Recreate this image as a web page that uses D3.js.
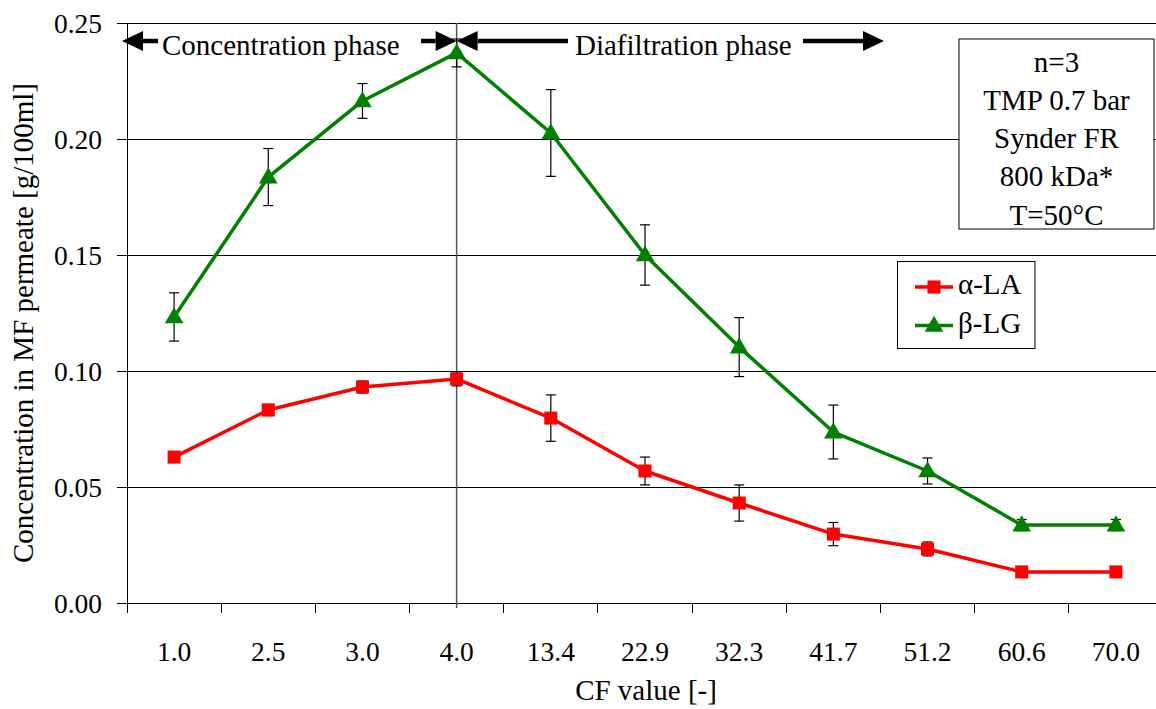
<!DOCTYPE html>
<html>
<head>
<meta charset="utf-8">
<script src="https://cdn.jsdelivr.net/npm/d3@7/dist/d3.min.js"></script>
<style>
  html, body { margin: 0; padding: 0; background: #fff; }
  svg { display: block; font-family: "Liberation Serif", "Times New Roman", serif; }
</style>
</head>
<body>
<svg id="chart" width="1156" height="709"></svg>
<script>
// ---- data ----
const categories = ["1.0", "2.5", "3.0", "4.0", "13.4", "22.9", "32.3", "41.7", "51.2", "60.6", "70.0"];
const alphaLA    = [0.0629, 0.0832, 0.0931, 0.0966, 0.0797, 0.0569, 0.0431, 0.0297, 0.0233, 0.0134, 0.0134];
const alphaLAErr = [0.0020, 0.0024, 0.0026, 0.0030, 0.0100, 0.0060, 0.0078, 0.0050, 0.0030, 0.0022, 0.0022];
const betaLG     = [0.1233, 0.1836, 0.2164, 0.2371, 0.2026, 0.1500, 0.1103, 0.0737, 0.0569, 0.0336, 0.0336];
const betaLGErr  = [0.0104, 0.0123, 0.0075, 0.0060, 0.0187, 0.0130, 0.0127, 0.0116, 0.0056, 0.0024, 0.0024];
const yTicks = [0, 0.05, 0.10, 0.15, 0.20, 0.25];
const infoLines = ["n=3", "TMP 0.7 bar", "Synder FR", "800 kDa*", "T=50°C"];
const seriesNames = ["α-LA", "β-LG"];
const phaseLabels = ["Concentration phase", "Diafiltration phase"];
const dividerCategory = "4.0";

// ---- layout ----
const svg = d3.select("#chart");
const L = 127, R = 1163, T = 23, B = 603;
const x = d3.scaleBand().domain(categories).range([L, R]).padding(0);
const bw = x.bandwidth();
const cx = c => x(c) + bw / 2;
const y = d3.scaleLinear().domain([0, 0.25]).range([B, T]);

const series = [
  { name: seriesNames[0], values: alphaLA, err: alphaLAErr, color: "#ff0000", marker: "square" },
  { name: seriesNames[1], values: betaLG, err: betaLGErr, color: "#008000", marker: "triangle" }
];

// gridlines
svg.append("g").selectAll("line").data(yTicks.filter(d => d > 0)).join("line")
  .attr("x1", L).attr("x2", R).attr("y1", d => y(d)).attr("y2", d => y(d))
  .attr("stroke", "#000").attr("stroke-width", 1).attr("shape-rendering", "crispEdges");

// y axis
const yAxis = svg.append("g").attr("transform", `translate(${L},0)`)
  .call(d3.axisLeft(y).tickValues(yTicks).tickFormat(d3.format(".2f")).tickSize(10).tickPadding(15));
yAxis.select(".domain").attr("stroke", "#000").attr("shape-rendering", "crispEdges");
yAxis.selectAll(".tick line").attr("stroke", "#000").attr("shape-rendering", "crispEdges");
yAxis.selectAll("text").attr("font-size", 27.5).attr("font-family", "Liberation Serif, Times New Roman, serif")
  .attr("fill", "#000").attr("dy", "0.34em");

// x axis line
svg.append("line").attr("x1", L).attr("x2", R).attr("y1", B).attr("y2", B)
  .attr("stroke", "#000").attr("shape-rendering", "crispEdges");
// x ticks at band boundaries
const bounds = categories.map(c => x(c)).concat([R]);
svg.append("g").selectAll("line").data(bounds).join("line")
  .attr("x1", d => d).attr("x2", d => d).attr("y1", B).attr("y2", B + 10)
  .attr("stroke", "#000").attr("shape-rendering", "crispEdges");
// x labels
svg.append("g").selectAll("text").data(categories).join("text")
  .attr("x", d => cx(d)).attr("y", 661).attr("text-anchor", "middle")
  .attr("font-size", 27.5).attr("fill", "#000").text(d => d);

// divider vertical line
svg.append("line").attr("x1", cx(dividerCategory)).attr("x2", cx(dividerCategory))
  .attr("y1", T).attr("y2", B + 5).attr("stroke", "#555").attr("stroke-width", 1.5);

// axis titles
svg.append("text").attr("x", 646).attr("y", 700).attr("text-anchor", "middle")
  .attr("font-size", 29).text("CF value [-]");
svg.append("text").attr("transform", "translate(33,323) rotate(-90)").attr("text-anchor", "middle")
  .attr("font-size", 29).text("Concentration in MF permeate [g/100ml]");

// error bars
series.forEach(s => {
  const g = svg.append("g").attr("stroke", "#000").attr("stroke-width", 1.2);
  categories.forEach((c, i) => {
    const v = s.values[i], e = s.err[i];
    g.append("line").attr("x1", cx(c)).attr("x2", cx(c)).attr("y1", y(v - e)).attr("y2", y(v + e));
    [v - e, v + e].forEach(t => g.append("line").attr("x1", cx(c) - 5).attr("x2", cx(c) + 5)
      .attr("y1", y(t)).attr("y2", y(t)));
  });
});

// lines
const line = d3.line().x((d, i) => cx(categories[i])).y(d => y(d));
series.forEach(s => {
  svg.append("path").datum(s.values).attr("d", line).attr("fill", "none")
    .attr("stroke", s.color).attr("stroke-width", 3.5).attr("stroke-linejoin", "round");
});

// markers
const sq = d3.symbol().type(d3.symbolSquare).size(170);
const tri = d3.symbol().type(d3.symbolTriangle).size(150);
series.forEach(s => {
  svg.append("g").selectAll("path").data(s.values).join("path")
    .attr("transform", (d, i) => `translate(${cx(categories[i])},${y(d) + (s.marker === "triangle" ? 1 : 0)})`)
    .attr("d", s.marker === "square" ? sq() : tri()).attr("fill", s.color);
});

// info box
svg.append("rect").attr("x", 959).attr("y", 39).attr("width", 195).attr("height", 190)
  .attr("fill", "#fff").attr("stroke", "#000").attr("stroke-width", 1);
svg.append("g").selectAll("text").data(infoLines).join("text")
  .attr("x", 1056.5).attr("y", (d, i) => 71.7 + i * 38.2).attr("text-anchor", "middle")
  .attr("font-size", 29).text(d => d);

// legend
const lg = svg.append("g");
lg.append("rect").attr("x", 897.5).attr("y", 261.5).attr("width", 137.5).attr("height", 87)
  .attr("fill", "#fff").attr("stroke", "#000").attr("stroke-width", 1);
series.forEach((s, i) => {
  const ly = 287 + i * 38.5;
  lg.append("line").attr("x1", 915).attr("x2", 953).attr("y1", ly).attr("y2", ly)
    .attr("stroke", s.color).attr("stroke-width", 3.5);
  lg.append("path").attr("transform", `translate(934,${ly + (s.marker === "triangle" ? 1 : 0)})`)
    .attr("d", s.marker === "square" ? sq() : tri()).attr("fill", s.color);
  lg.append("text").attr("x", 958).attr("y", ly + 7 + i * 0.5).attr("font-size", 29).text(s.name);
});

// phase annotations
function arrow(x1, x2, yy) {
  // from x1 (tail) to x2 (tip)
  const dir = Math.sign(x2 - x1);
  const head = 21, hh = 10;
  svg.append("line").attr("x1", x1).attr("x2", x2 - dir * head).attr("y1", yy).attr("y2", yy)
    .attr("stroke", "#000").attr("stroke-width", 4.5);
  svg.append("path").attr("d", `M${x2},${yy} L${x2 - dir * head},${yy - hh} L${x2 - dir * head},${yy + hh} Z`)
    .attr("fill", "#000");
}
const ay = 41;
const divX = cx(dividerCategory);
arrow(158, 122, ay);
arrow(421, divX, ay);
arrow(568, divX, ay);
arrow(803, 884, ay);
svg.append("text").attr("x", 162).attr("y", 55).attr("font-size", 29).text(phaseLabels[0]);
svg.append("text").attr("x", 575).attr("y", 55).attr("font-size", 29).text(phaseLabels[1]);
</script>
</body>
</html>
